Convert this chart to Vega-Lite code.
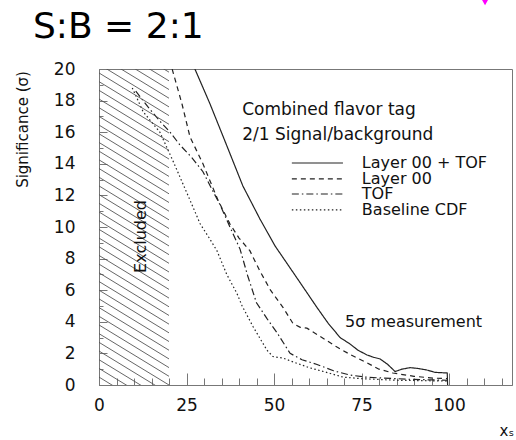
{
  "$schema": "https://vega.github.io/schema/vega-lite/v6.json",
  "width": 413,
  "height": 316,
  "autosize": {"type": "none"},
  "padding": {"left": 99, "top": 69, "right": 4, "bottom": 55},
  "background": "white",
  "title": {"text": "S:B = 2:1", "anchor": "start", "frame": "group", "dx": -66, "offset": -77, "baseline": "alphabetic", "font": "DejaVu Sans", "fontSize": 36, "fontWeight": "normal", "color": "#000"},
  "config": {"view": {"stroke": "#777", "strokeWidth": 1}, "font": "DejaVu Sans", "axis": {"labelOverlap": false}},
  "resolve": {"axis": {"x": "independent", "y": "independent"}},
  "datasets": {
    "curves": [
      {"s": "Layer 00 + TOF", "g": "curve", "x": 27.4, "y": 20},
      {"s": "Layer 00 + TOF", "g": "curve", "x": 31.7, "y": 17.8},
      {"s": "Layer 00 + TOF", "g": "curve", "x": 36.6, "y": 15.1},
      {"s": "Layer 00 + TOF", "g": "curve", "x": 41.1, "y": 12.6},
      {"s": "Layer 00 + TOF", "g": "curve", "x": 46.0, "y": 10.5},
      {"s": "Layer 00 + TOF", "g": "curve", "x": 50.3, "y": 8.8},
      {"s": "Layer 00 + TOF", "g": "curve", "x": 53.7, "y": 7.7},
      {"s": "Layer 00 + TOF", "g": "curve", "x": 57.4, "y": 6.5},
      {"s": "Layer 00 + TOF", "g": "curve", "x": 62.3, "y": 4.9},
      {"s": "Layer 00 + TOF", "g": "curve", "x": 65.5, "y": 3.9},
      {"s": "Layer 00 + TOF", "g": "curve", "x": 68.9, "y": 3.0},
      {"s": "Layer 00 + TOF", "g": "curve", "x": 71.7, "y": 2.6},
      {"s": "Layer 00 + TOF", "g": "curve", "x": 74.0, "y": 2.2},
      {"s": "Layer 00 + TOF", "g": "curve", "x": 76.6, "y": 1.9},
      {"s": "Layer 00 + TOF", "g": "curve", "x": 78.5, "y": 1.75},
      {"s": "Layer 00 + TOF", "g": "curve", "x": 80.3, "y": 1.65},
      {"s": "Layer 00 + TOF", "g": "curve", "x": 82.5, "y": 1.3},
      {"s": "Layer 00 + TOF", "g": "curve", "x": 84.6, "y": 0.85},
      {"s": "Layer 00 + TOF", "g": "curve", "x": 86.5, "y": 1.0},
      {"s": "Layer 00 + TOF", "g": "curve", "x": 88.9, "y": 1.1},
      {"s": "Layer 00 + TOF", "g": "curve", "x": 91.0, "y": 1.05},
      {"s": "Layer 00 + TOF", "g": "curve", "x": 93.7, "y": 0.95},
      {"s": "Layer 00 + TOF", "g": "curve", "x": 96.0, "y": 0.8},
      {"s": "Layer 00 + TOF", "g": "curve", "x": 99.5, "y": 0.76},
      {"s": "Layer 00 + TOF", "g": "curve", "x": 99.6, "y": 0.0},
      {"s": "Layer 00", "g": "curve", "x": 20.9, "y": 20},
      {"s": "Layer 00", "g": "curve", "x": 23.7, "y": 17.8},
      {"s": "Layer 00", "g": "curve", "x": 26.0, "y": 15.7},
      {"s": "Layer 00", "g": "curve", "x": 29.7, "y": 14.0},
      {"s": "Layer 00", "g": "curve", "x": 34.0, "y": 11.7},
      {"s": "Layer 00", "g": "curve", "x": 37.4, "y": 10.2},
      {"s": "Layer 00", "g": "curve", "x": 40.0, "y": 9.3},
      {"s": "Layer 00", "g": "curve", "x": 43.1, "y": 8.5},
      {"s": "Layer 00", "g": "curve", "x": 46.0, "y": 7.2},
      {"s": "Layer 00", "g": "curve", "x": 49.0, "y": 6.0},
      {"s": "Layer 00", "g": "curve", "x": 52.6, "y": 4.9},
      {"s": "Layer 00", "g": "curve", "x": 55.4, "y": 3.9},
      {"s": "Layer 00", "g": "curve", "x": 57.5, "y": 3.65},
      {"s": "Layer 00", "g": "curve", "x": 59.4, "y": 3.6},
      {"s": "Layer 00", "g": "curve", "x": 63.0, "y": 3.1},
      {"s": "Layer 00", "g": "curve", "x": 68.0, "y": 2.4},
      {"s": "Layer 00", "g": "curve", "x": 72.0, "y": 1.9},
      {"s": "Layer 00", "g": "curve", "x": 76.6, "y": 1.4},
      {"s": "Layer 00", "g": "curve", "x": 80.0, "y": 1.0},
      {"s": "Layer 00", "g": "curve", "x": 84.0, "y": 0.76},
      {"s": "Layer 00", "g": "curve", "x": 90.0, "y": 0.55},
      {"s": "Layer 00", "g": "curve", "x": 95.4, "y": 0.44},
      {"s": "Layer 00", "g": "curve", "x": 99.5, "y": 0.4},
      {"s": "TOF", "g": "curve", "x": 10.5, "y": 18.6},
      {"s": "TOF", "g": "curve", "x": 14.0, "y": 17.6},
      {"s": "TOF", "g": "curve", "x": 17.4, "y": 16.7},
      {"s": "TOF", "g": "curve", "x": 20.3, "y": 16.0},
      {"s": "TOF", "g": "curve", "x": 23.1, "y": 15.2},
      {"s": "TOF", "g": "curve", "x": 26.5, "y": 14.4},
      {"s": "TOF", "g": "curve", "x": 29.7, "y": 13.5},
      {"s": "TOF", "g": "curve", "x": 32.0, "y": 12.5},
      {"s": "TOF", "g": "curve", "x": 34.6, "y": 11.4},
      {"s": "TOF", "g": "curve", "x": 37.0, "y": 10.2},
      {"s": "TOF", "g": "curve", "x": 40.3, "y": 8.6},
      {"s": "TOF", "g": "curve", "x": 42.5, "y": 6.9},
      {"s": "TOF", "g": "curve", "x": 45.0, "y": 5.2},
      {"s": "TOF", "g": "curve", "x": 48.0, "y": 4.2},
      {"s": "TOF", "g": "curve", "x": 50.9, "y": 3.3},
      {"s": "TOF", "g": "curve", "x": 54.6, "y": 2.0},
      {"s": "TOF", "g": "curve", "x": 58.0, "y": 1.6},
      {"s": "TOF", "g": "curve", "x": 62.3, "y": 1.3},
      {"s": "TOF", "g": "curve", "x": 67.0, "y": 0.9},
      {"s": "TOF", "g": "curve", "x": 71.7, "y": 0.63},
      {"s": "TOF", "g": "curve", "x": 76.0, "y": 0.5},
      {"s": "TOF", "g": "curve", "x": 81.0, "y": 0.44},
      {"s": "TOF", "g": "curve", "x": 90.0, "y": 0.35},
      {"s": "TOF", "g": "curve", "x": 99.5, "y": 0.3},
      {"s": "Baseline CDF", "g": "curve", "x": 9.5, "y": 18.8},
      {"s": "Baseline CDF", "g": "curve", "x": 12.6, "y": 17.3},
      {"s": "Baseline CDF", "g": "curve", "x": 17.4, "y": 16.0},
      {"s": "Baseline CDF", "g": "curve", "x": 21.1, "y": 14.2},
      {"s": "Baseline CDF", "g": "curve", "x": 26.0, "y": 11.7},
      {"s": "Baseline CDF", "g": "curve", "x": 28.9, "y": 10.2},
      {"s": "Baseline CDF", "g": "curve", "x": 31.5, "y": 9.3},
      {"s": "Baseline CDF", "g": "curve", "x": 33.7, "y": 8.5},
      {"s": "Baseline CDF", "g": "curve", "x": 36.5, "y": 7.0},
      {"s": "Baseline CDF", "g": "curve", "x": 39.4, "y": 5.8},
      {"s": "Baseline CDF", "g": "curve", "x": 40.9, "y": 5.0},
      {"s": "Baseline CDF", "g": "curve", "x": 44.0, "y": 3.7},
      {"s": "Baseline CDF", "g": "curve", "x": 48.0, "y": 2.2},
      {"s": "Baseline CDF", "g": "curve", "x": 49.7, "y": 1.8},
      {"s": "Baseline CDF", "g": "curve", "x": 52.6, "y": 1.7},
      {"s": "Baseline CDF", "g": "curve", "x": 55.0, "y": 1.5},
      {"s": "Baseline CDF", "g": "curve", "x": 60.0, "y": 1.1},
      {"s": "Baseline CDF", "g": "curve", "x": 65.0, "y": 0.8},
      {"s": "Baseline CDF", "g": "curve", "x": 69.7, "y": 0.5},
      {"s": "Baseline CDF", "g": "curve", "x": 75.0, "y": 0.4},
      {"s": "Baseline CDF", "g": "curve", "x": 85.0, "y": 0.3},
      {"s": "Baseline CDF", "g": "curve", "x": 99.5, "y": 0.25},
      {"s": "Layer 00 + TOF", "g": "key", "x": 55.1, "y": 14.05},
      {"s": "Layer 00 + TOF", "g": "key", "x": 69.7, "y": 14.05},
      {"s": "Layer 00", "g": "key", "x": 55.1, "y": 13.04},
      {"s": "Layer 00", "g": "key", "x": 69.7, "y": 13.04},
      {"s": "TOF", "g": "key", "x": 55.1, "y": 12.09},
      {"s": "TOF", "g": "key", "x": 69.7, "y": 12.09},
      {"s": "Baseline CDF", "g": "key", "x": 55.1, "y": 11.08},
      {"s": "Baseline CDF", "g": "key", "x": 69.7, "y": 11.08}
    ],
    "hatch": [
      {"y": 22.5, "y2": 19.8}, {"y": 21.95, "y2": 19.25}, {"y": 21.4, "y2": 18.7}, {"y": 20.85, "y2": 18.15},
      {"y": 20.3, "y2": 17.6}, {"y": 19.75, "y2": 17.05}, {"y": 19.2, "y2": 16.5}, {"y": 18.65, "y2": 15.95},
      {"y": 18.1, "y2": 15.4}, {"y": 17.55, "y2": 14.85}, {"y": 17.0, "y2": 14.3}, {"y": 16.45, "y2": 13.75},
      {"y": 15.9, "y2": 13.2}, {"y": 15.35, "y2": 12.65}, {"y": 14.8, "y2": 12.1}, {"y": 14.25, "y2": 11.55},
      {"y": 13.7, "y2": 11.0}, {"y": 13.15, "y2": 10.45}, {"y": 12.6, "y2": 9.9}, {"y": 12.05, "y2": 9.35},
      {"y": 11.5, "y2": 8.8}, {"y": 10.95, "y2": 8.25}, {"y": 10.4, "y2": 7.7}, {"y": 9.85, "y2": 7.15},
      {"y": 9.3, "y2": 6.6}, {"y": 8.75, "y2": 6.05}, {"y": 8.2, "y2": 5.5}, {"y": 7.65, "y2": 4.95},
      {"y": 7.1, "y2": 4.4}, {"y": 6.55, "y2": 3.85}, {"y": 6.0, "y2": 3.3}, {"y": 5.45, "y2": 2.75},
      {"y": 4.9, "y2": 2.2}, {"y": 4.35, "y2": 1.65}, {"y": 3.8, "y2": 1.1}, {"y": 3.25, "y2": 0.55},
      {"y": 2.7, "y2": 0.0}, {"y": 2.15, "y2": -0.55}, {"y": 1.6, "y2": -1.1}, {"y": 1.05, "y2": -1.65},
      {"y": 0.5, "y2": -2.2}
    ],
    "notes": [
      {"t": "Combined flavor tag", "x": 40.9, "y": 17.4},
      {"t": "2/1 Signal/background", "x": 40.9, "y": 15.8}
    ],
    "keys": [
      {"t": "Layer 00 + TOF", "x": 75.1, "y": 14.05},
      {"t": "Layer 00", "x": 75.1, "y": 13.04},
      {"t": "TOF", "x": 75.1, "y": 12.09},
      {"t": "Baseline CDF", "x": 75.1, "y": 11.08},
      {"t": "5σ measurement", "x": 70.3, "y": 4.0}
    ],
    "excl": [
      {"t": "Excluded", "x": 12, "y": 9.4}
    ],
    "marker": [
      {"x": 110.3, "y": 24.3}
    ]
  },
  "layer": [
    {
      "data": {"name": "curves"},
      "mark": {"type": "line", "clip": true, "strokeWidth": 1.2, "color": "#222"},
      "encoding": {
        "x": {
          "field": "x", "type": "quantitative",
          "scale": {"domain": [0, 118], "nice": false, "zero": false},
          "axis": {
            "orient": "bottom",
            "values": [0, 25, 50, 75, 100],
            "tickSize": -12,
            "labelPadding": 24,
            "domainColor": "#777", "tickColor": "#777", "tickWidth": 1,
            "labelFont": "DejaVu Sans", "labelFontSize": 17, "labelColor": "#111",
            "labelFlush": false, "labelOverlap": false, "grid": false,
            "title": "xₛ", "titleX": 400, "titleY": 50, "titleAlign": "left", "titleBaseline": "alphabetic",
            "titleFont": "DejaVu Sans", "titleFontSize": 15, "titleFontWeight": "normal", "titleColor": "#111"
          }
        },
        "y": {
          "field": "y", "type": "quantitative",
          "scale": {"domain": [0, 20], "nice": false, "zero": false},
          "axis": {
            "orient": "left",
            "values": [0, 2, 4, 6, 8, 10, 12, 14, 16, 18, 20],
            "tickSize": -8,
            "labelPadding": 32,
            "domainColor": "#777", "tickColor": "#777", "tickWidth": 1,
            "labelFont": "DejaVu Sans", "labelFontSize": 17, "labelColor": "#111",
            "labelFlush": false, "labelOverlap": false, "grid": false,
            "title": "Significance (σ)", "titleX": -77, "titleY": 60, "titleAngle": 270,
            "titleAlign": "center", "titleBaseline": "middle",
            "titleFont": "DejaVu Sans", "titleFontSize": 15, "titleFontWeight": "normal", "titleColor": "#111"
          }
        },
        "strokeDash": {
          "field": "s", "type": "nominal",
          "scale": {"domain": ["Layer 00 + TOF", "Layer 00", "TOF", "Baseline CDF"], "range": [[1, 0], [5, 4], [7, 3, 1.5, 3], [1.5, 2.5]]},
          "legend": null
        },
        "detail": {"field": "g", "type": "nominal"}
      }
    },
    {
      "data": {"name": "hatch"},
      "mark": {"type": "rule", "clip": true, "color": "#555", "strokeWidth": 0.9},
      "encoding": {
        "x": {"datum": 0, "type": "quantitative", "scale": {"domain": [0, 118], "nice": false, "zero": false},
          "axis": {"orient": "bottom", "values": [5, 10, 15, 20, 30, 35, 40, 45, 55, 60, 65, 70, 80, 85, 90, 95, 105, 110, 115], "tickSize": -7, "labels": false, "domain": false, "grid": false, "title": null, "tickColor": "#777", "tickWidth": 1}},
        "x2": {"datum": 20},
        "y": {"field": "y", "type": "quantitative", "scale": {"domain": [0, 20], "nice": false, "zero": false},
          "axis": {"orient": "left", "values": [1, 3, 5, 7, 9, 11, 13, 15, 17, 19], "tickSize": -4, "labels": false, "domain": false, "grid": false, "title": null, "tickColor": "#777", "tickWidth": 1}},
        "y2": {"field": "y2"}
      }
    },
    {
      "mark": {"type": "rule", "strokeDash": [7, 5], "strokeWidth": 1.6, "color": "#111"},
      "encoding": {
        "y": {"datum": 5, "type": "quantitative", "scale": {"domain": [0, 20], "nice": false, "zero": false}, "axis": null}
      }
    },
    {
      "data": {"name": "notes"},
      "mark": {"type": "text", "align": "left", "baseline": "middle", "font": "DejaVu Sans", "fontSize": 17, "color": "#111"},
      "encoding": {
        "x": {"field": "x", "type": "quantitative", "scale": {"domain": [0, 118], "nice": false, "zero": false}, "axis": null},
        "y": {"field": "y", "type": "quantitative", "scale": {"domain": [0, 20], "nice": false, "zero": false}, "axis": null},
        "text": {"field": "t"}
      }
    },
    {
      "data": {"name": "keys"},
      "mark": {"type": "text", "align": "left", "baseline": "middle", "font": "DejaVu Sans", "fontSize": 16, "color": "#111"},
      "encoding": {
        "x": {"field": "x", "type": "quantitative", "scale": {"domain": [0, 118], "nice": false, "zero": false}, "axis": null},
        "y": {"field": "y", "type": "quantitative", "scale": {"domain": [0, 20], "nice": false, "zero": false}, "axis": null},
        "text": {"field": "t"}
      }
    },
    {
      "data": {"name": "excl"},
      "mark": {"type": "text", "align": "center", "baseline": "middle", "angle": 270, "font": "DejaVu Sans", "fontSize": 16, "color": "#111"},
      "encoding": {
        "x": {"field": "x", "type": "quantitative", "scale": {"domain": [0, 118], "nice": false, "zero": false}, "axis": null},
        "y": {"field": "y", "type": "quantitative", "scale": {"domain": [0, 20], "nice": false, "zero": false}, "axis": null},
        "text": {"field": "t"}
      }
    },
    {
      "data": {"name": "marker"},
      "mark": {"type": "point", "shape": "triangle-down", "filled": true, "size": 90, "color": "#ff00ff", "opacity": 1, "clip": false},
      "encoding": {
        "x": {"field": "x", "type": "quantitative", "scale": {"domain": [0, 118], "nice": false, "zero": false}, "axis": null},
        "y": {"field": "y", "type": "quantitative", "scale": {"domain": [0, 20], "nice": false, "zero": false}, "axis": null}
      }
    }
  ]
}
